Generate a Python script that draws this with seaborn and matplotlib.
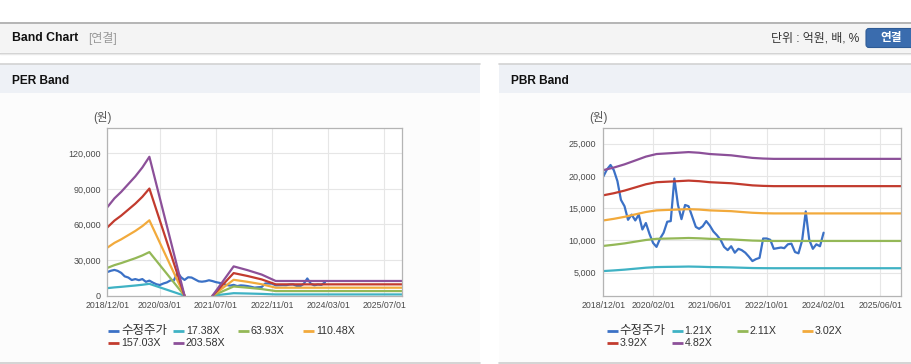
import pandas as pd
import matplotlib.pyplot as plt
import matplotlib.ticker as mticker
from matplotlib.patches import Rectangle, FancyBboxPatch
import seaborn as sns

# ── Data ──────────────────────────────────────────────────
START = "2018-12-01"

# adjusted price, monthly from 2018/12 to 2024/02
price_months = list(range(63))
price = [19900, 21000, 21700, 20900, 19200, 16300, 15300, 13200, 14000, 13100,
         14000, 11700, 12700, 11000, 9600, 9000, 10300, 11200, 12900, 13000,
         19600, 15500, 13300, 15500, 15300, 13700, 12100, 11800, 12200, 13000,
         12300, 11400, 10800, 10100, 9000, 8500, 9100, 8100, 8700, 8500,
         8100, 7500, 6800, 7100, 7300, 10300, 10300, 10100, 8700, 8800,
         8900, 8800, 9400, 9500, 8200, 8000, 10000, 14500, 10100, 8700,
         9400, 9100, 11200]

# PER band (two segments, gap while EPS < 0)
per_labels = ["수정주가", "17.38X", "63.93X", "110.48X", "157.03X", "203.58X"]
per_months = [0, 2, 4, 6, 8, 10, 12, 22, 30, 36, 40, 44, 48, 84]
per_segment = [0, 0, 0, 0, 0, 0, 0, 0, 1, 1, 1, 1, 1, 1]
per_1738 = [6360, 7000, 7470, 8030, 8580, 9220, 9990, 0, 0, 2110, 1840, 1520, 1060, 1060]
per_6393 = [23390, 25750, 27480, 29520, 31560, 33910, 36740, 0, 0, 7760, 6750, 5590, 3890, 3890]
per_11048 = [40430, 44500, 47490, 51010, 54540, 58610, 63500, 0, 0, 13400, 11670, 9660, 6730, 6730]
per_15703 = [57460, 63250, 67490, 72500, 77520, 83300, 90240, 0, 0, 19050, 16580, 13730, 9560, 9560]
per_20358 = [74500, 82000, 87500, 94000, 100500, 108000, 117000, 0, 0, 24700, 21500, 17800, 12400, 12400]
per_xticks = ["2018/12/01", "2020/03/01", "2021/07/01", "2022/11/01", "2024/03/01", "2025/07/01"]
per_yticks = [0, 30000, 60000, 90000, 120000]

# PBR band
pbr_labels = ["수정주가", "1.21X", "2.11X", "3.02X", "3.92X", "4.82X"]
pbr_months = [0, 3, 6, 9, 12, 15, 18, 21, 24, 27, 30, 33, 36, 39, 42, 45, 48, 84]
pbr_121 = [5250, 5350, 5470, 5620, 5770, 5870, 5900, 5920, 5950, 5920, 5870, 5850,
           5820, 5770, 5720, 5700, 5690, 5690]
pbr_211 = [9150, 9330, 9540, 9810, 10070, 10250, 10290, 10330, 10380, 10330, 10250, 10200,
           10160, 10070, 9980, 9940, 9920, 9920]
pbr_302 = [13100, 13350, 13660, 14040, 14410, 14660, 14730, 14790, 14850, 14790, 14660, 14600,
           14540, 14410, 14290, 14220, 14190, 14190]
pbr_392 = [17000, 17320, 17730, 18220, 18710, 19030, 19110, 19190, 19280, 19190, 19030, 18950,
           18870, 18710, 18540, 18460, 18420, 18420]
pbr_482 = [20900, 21300, 21800, 22400, 23000, 23400, 23500, 23600, 23700, 23600, 23400, 23300,
           23200, 23000, 22800, 22700, 22650, 22650]
pbr_xticks = ["2018/12/01", "2020/02/01", "2021/06/01", "2022/10/01", "2024/02/01", "2025/06/01"]
pbr_yticks = [5000, 10000, 15000, 20000, 25000]

COLORS = ["#3b71c6", "#3fb2c4", "#94b857", "#f2aa3c", "#c23b2e", "#8c5099"]

# ── Style ─────────────────────────────────────────────────
sns.set_theme(style="white")
plt.rcParams["font.family"] = ["Liberation Sans", "Noto Sans CJK KR"]

W, H = 912, 364
fig = plt.figure(figsize=(W / 100, H / 100), dpi=100)
fig.patch.set_facecolor("white")

bg = fig.add_axes([0, 0, 1, 1], zorder=-10)
bg.set_xlim(0, W)
bg.set_ylim(H, 0)
bg.axis("off")


def month_dates(months):
    return [pd.Timestamp(START) + pd.DateOffset(months=m) for m in months]


def build_frame(labels, months, segment, bands):
    rows = [pd.DataFrame({"date": month_dates(price_months), "value": price,
                          "series": labels[0], "seg": 0})]
    for lab, vals in zip(labels[1:], bands):
        rows.append(pd.DataFrame({"date": month_dates(months), "value": vals,
                                  "series": lab, "seg": segment}))
    return pd.concat(rows, ignore_index=True)


def px_axes(l, t, r, b):
    return fig.add_axes([l / W, 1 - b / H, (r - l) / W, (b - t) / H])


# ── Page chrome ───────────────────────────────────────────
bg.add_patch(Rectangle((0, 22), W, 30, fc="#f4f4f4", ec="none"))
bg.plot([0, W], [22.5, 22.5], color="#b0b0b0", lw=1.3)
bg.plot([0, W], [52.5, 52.5], color="#cfcfcf", lw=1)
bg.plot([0, W], [53.5, 53.5], color="#e9e9e9", lw=1)
bg.text(12, 38.3, "Band Chart", fontsize=8.8, weight="bold", color="#111", va="center")
bg.text(88, 38.3, "[연결]", fontsize=8.6, color="#999", va="center")
bg.text(859, 38.3, "단위 : 억원, 배, %", fontsize=8.6, color="#333", va="center", ha="right")
bg.add_patch(FancyBboxPatch((866, 28.5), 54, 19, boxstyle="round,pad=0,rounding_size=3",
                            fc="#3a6cae", ec="#2e5b96", lw=0.8))
bg.text(891, 38.3, "연결", fontsize=8.4, weight="bold", color="white", va="center", ha="center")

for x0, x1, title in [(0, 480, "PER Band"), (499, W, "PBR Band")]:
    bg.add_patch(Rectangle((x0, 64), x1 - x0, 29, fc="#eef1f6", ec="none"))
    bg.add_patch(Rectangle((x0, 93), x1 - x0, 269, fc="#fcfcfc", ec="none"))
    bg.plot([x0, x1], [64, 64], color="#d2d2d2", lw=1.2)
    bg.plot([x0, x1], [362.5, 362.5], color="#cdcdcd", lw=1.2)
    bg.text(x0 + 12, 80.5, title, fontsize=8.6, weight="bold", color="#111", va="center")

# ── Charts ────────────────────────────────────────────────
panels = [
    dict(box=(107.3, 128.3, 402.3, 295.7), labels=per_labels, months=per_months,
         segment=per_segment, bands=[per_1738, per_6393, per_11048, per_15703, per_20358],
         xticks=per_xticks, yticks=per_yticks, ylim=(0, 141000),
         xlim=("2018-12-01", "2025-12-03"), ypad=4.5, unit_x=102.5, legend_x=108),
    dict(box=(603.3, 128.3, 901.3, 295.7), labels=pbr_labels, months=pbr_months,
         segment=[0] * len(pbr_months), bands=[pbr_121, pbr_211, pbr_302, pbr_392, pbr_482],
         xticks=pbr_xticks, yticks=pbr_yticks, ylim=(1430, 27390),
         xlim=("2018-12-01", "2025-11-28"), ypad=5.5, unit_x=598, legend_x=606.7),
]

for p in panels:
    ax = px_axes(*p["box"])
    ax.set_facecolor("white")
    df = build_frame(p["labels"], p["months"], p["segment"], p["bands"])
    sns.lineplot(data=df, x="date", y="value", hue="series", units="seg",
                 estimator=None, hue_order=p["labels"],
                 palette=dict(zip(p["labels"], COLORS)),
                 linewidth=1.6, legend=False, ax=ax)
    ax.set_xlim(pd.Timestamp(p["xlim"][0]), pd.Timestamp(p["xlim"][1]))
    ax.set_ylim(*p["ylim"])
    ax.set_xticks(pd.to_datetime(p["xticks"]))
    ax.set_xticklabels(p["xticks"])
    ax.set_yticks(p["yticks"])
    ax.yaxis.set_major_formatter(mticker.FuncFormatter(lambda v, _: f"{v:,.0f}"))
    ax.set_xlabel("")
    ax.set_ylabel("")
    ax.grid(True, color="#e6e6e6", lw=0.8)
    ax.set_axisbelow(True)
    for s in ax.spines.values():
        s.set_visible(True)
        s.set_color("#b4b4b4")
        s.set_linewidth(0.9)
    ax.tick_params(axis="x", length=2.5, width=0.8, color="#b4b4b4",
                   labelsize=6.3, labelcolor="#4a4a4a", pad=1.5)
    ax.tick_params(axis="y", length=0, labelsize=6.5, labelcolor="#4a4a4a", pad=p["ypad"])

    bg.text(p["unit_x"], 118, "(원)", fontsize=8.3, color="#555", ha="center", va="center")

    # legend: fixed-width items, 4 per row
    for i, (lab, col) in enumerate(zip(p["labels"], COLORS)):
        lx = p["legend_x"] + 65 * (i % 4)
        ly = 330.7 + 12.6 * (i // 4)
        bg.plot([lx, lx + 11], [ly, ly], color=col, lw=2, solid_capstyle="butt")
        bg.text(lx + 13, ly, lab, fontsize=9.0 if i == 0 else 7.7, color="#333", va="center")

fig.savefig("out.png", dpi=100, facecolor="white")
